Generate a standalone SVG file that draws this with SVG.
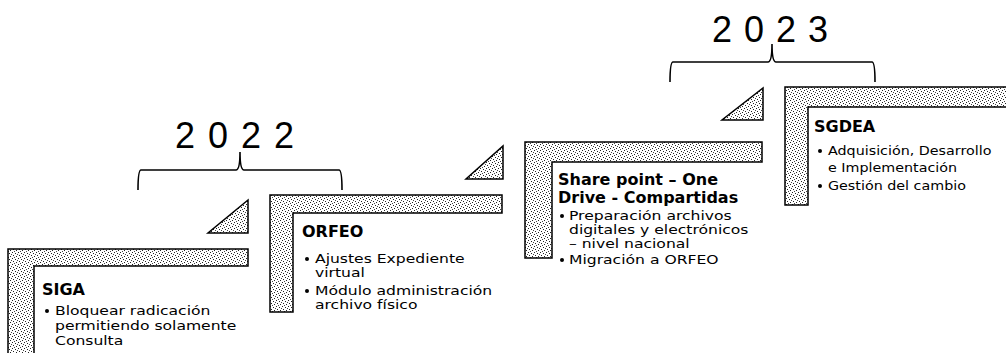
<svg xmlns="http://www.w3.org/2000/svg" width="1006" height="353" viewBox="0 0 1006 353">
<defs>
<pattern id="st" width="6" height="6" patternUnits="userSpaceOnUse">
<rect width="6" height="6" fill="#fff"/>
<rect x="0" y="0" width="1" height="1" fill="#222"/>
<rect x="3" y="1" width="1" height="1" fill="#222"/>
<rect x="1" y="3" width="1" height="1" fill="#222"/>
<rect x="4" y="4" width="1" height="1" fill="#222"/>
<rect x="5" y="2" width="1" height="1" fill="#444"/>
<rect x="2" y="5" width="1" height="1" fill="#444"/>
</pattern>
</defs>
<style>
.frame{fill:url(#st);stroke:#000;stroke-width:1.5}
.tri{fill:url(#st);stroke:#000;stroke-width:1.5;stroke-linejoin:miter}
.year{font-family:"Liberation Sans",Arial,sans-serif;font-size:36px;fill:#000}
.title{font-family:"DejaVu Sans",sans-serif;font-size:16px;font-weight:bold;fill:#000}
.body{font-family:"DejaVu Sans",sans-serif;font-size:13px;fill:#000}
.dot{fill:#000}
.brace{fill:none;stroke:#000;stroke-width:1.6}
</style>
<rect width="1006" height="353" fill="#fff"/>

<g id="connectors">
<path class="brace" d="M138,190 Q138,170 141,170 L236,170 Q240,170 240,152 Q240,170 244,170 L339,170 Q342,170 342,190"/>
<path class="brace" d="M670,82 Q670,62 673,62 L768,62 Q772,62 772,44 Q772,62 776,62 L872,62 Q875,62 875,82"/>
</g>

<g id="year-2022">
<text class="year" x="175" y="148" letter-spacing="13">2022</text>
</g>
<g id="year-2023">
<text class="year" x="712" y="42" letter-spacing="12">2023</text>
</g>

<g id="node-siga">
<polygon class="tri" points="208,233 248,233 248,200"/>
<path class="frame" d="M8,249 H248 V266 H34 V360 H8 Z"/>
<text class="title" x="42" y="295">SIGA</text>
<circle class="dot" cx="47" cy="311" r="2"/>
<text class="body" transform="translate(55,315) scale(1.2,1)">Bloquear radicación</text>
<text class="body" transform="translate(55,330) scale(1.2,1)">permitiendo solamente</text>
<text class="body" transform="translate(55,345) scale(1.2,1)">Consulta</text>
</g>

<g id="node-orfeo">
<polygon class="tri" points="466,179 503,179 503,146"/>
<path class="frame" d="M270,195 H502 V213 H293 V312 H270 Z"/>
<text class="title" x="302" y="237">ORFEO</text>
<circle class="dot" cx="307" cy="259" r="2"/>
<text class="body" transform="translate(315,263) scale(1.2,1)">Ajustes Expediente</text>
<text class="body" transform="translate(315,277) scale(1.2,1)">virtual</text>
<circle class="dot" cx="307" cy="291" r="2"/>
<text class="body" transform="translate(315,295) scale(1.2,1)">Módulo administración</text>
<text class="body" transform="translate(315,309) scale(1.2,1)">archivo físico</text>
</g>

<g id="node-sharepoint">
<polygon class="tri" points="722,120 763,120 763,88"/>
<path class="frame" d="M525,142 H762 V162 H552 V258 H525 Z"/>
<text class="title" x="558" y="185">Share point – One</text>
<text class="title" x="558" y="203">Drive - Compartidas</text>
<circle class="dot" cx="562" cy="216" r="2"/>
<text class="body" transform="translate(569,220) scale(1.2,1)">Preparación archivos</text>
<text class="body" transform="translate(569,234) scale(1.2,1)">digitales y electrónicos</text>
<text class="body" transform="translate(569,248) scale(1.2,1)">– nivel nacional</text>
<circle class="dot" cx="562" cy="260" r="2"/>
<text class="body" transform="translate(569,264) scale(1.2,1)">Migración a ORFEO</text>
</g>

<g id="node-sgdea">
<path class="frame" d="M785,87 H1010 V107 H808 V205 H785 Z"/>
<text class="title" x="814" y="132">SGDEA</text>
<circle class="dot" cx="820" cy="151" r="2"/>
<text class="body" transform="translate(828,155) scale(1.1,1)">Adquisición, Desarrollo</text>
<text class="body" transform="translate(828,172) scale(1.1,1)">e Implementación</text>
<circle class="dot" cx="820" cy="186" r="2"/>
<text class="body" transform="translate(828,190) scale(1.1,1)">Gestión del cambio</text>
</g>
</svg>
